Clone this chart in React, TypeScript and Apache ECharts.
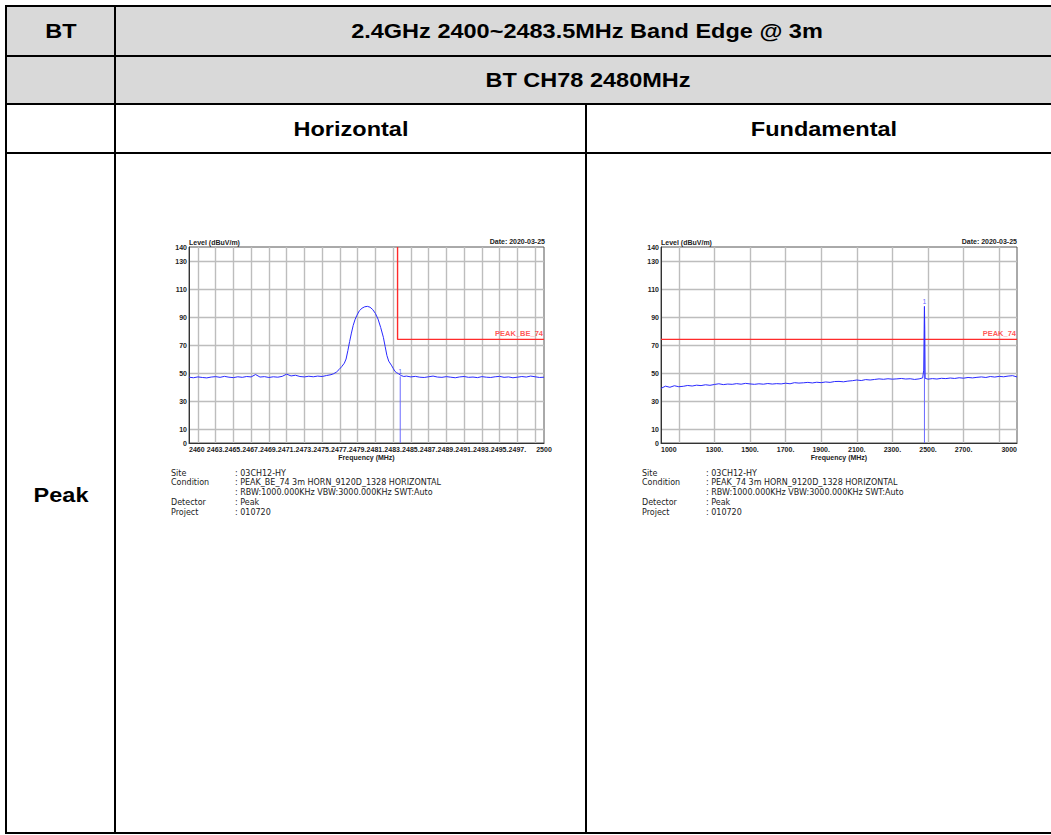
import React, { useEffect, useRef } from "react";
import * as echarts from "echarts";

// ---------- data ----------
const leftFreq = [
  2460, 2460.5, 2461, 2461.5, 2462, 2462.5, 2463, 2463.5, 2464, 2464.5, 2465, 2465.5, 2466, 2466.5, 2467, 2467.5,
  2468, 2468.5, 2469, 2469.5, 2470, 2470.5, 2471, 2471.5, 2472, 2472.5, 2473, 2473.5, 2474, 2474.5, 2475, 2475.5,
  2476, 2476.3, 2476.6, 2476.9, 2477.2, 2477.5, 2477.7, 2477.9, 2478.1, 2478.3, 2478.5, 2478.7, 2478.9, 2479.2,
  2479.5, 2479.8, 2480.1, 2480.4, 2480.7, 2481.0, 2481.3, 2481.6, 2481.9, 2482.1, 2482.3, 2482.5, 2482.8, 2483.0,
  2483.2, 2483.4, 2483.6, 2483.9, 2484.2, 2484.5, 2485, 2485.5, 2486, 2486.5, 2487, 2487.5, 2488, 2488.5, 2489,
  2489.5, 2490, 2490.5, 2491, 2491.5, 2492, 2492.5, 2493, 2493.5, 2494, 2494.5, 2495, 2495.5, 2496, 2496.5, 2497,
  2497.5, 2498, 2498.5, 2499, 2499.5, 2500,
];
const leftLevel = [
  47.0, 46.6, 47.2, 46.8, 46.5, 47.1, 47.4, 46.9, 47.6, 47.0, 46.7, 47.3, 46.9, 47.5, 47.2, 48.9,
  47.1, 47.4, 46.8, 47.3, 47.0, 47.6, 49.2, 47.9, 48.4, 47.5, 47.2, 47.7, 47.3, 47.8, 47.5, 48.2,
  48.8, 49.5, 50.6, 52.4, 54.5, 57.0, 60.0, 66.0, 72.5, 78.5, 84.0, 88.0, 91.0, 94.5,
  96.3, 97.3, 97.6, 97.0, 95.3, 92.6, 88.5, 82.5, 75.5, 69.0, 62.5, 58.5, 55.6, 53.4,
  51.2, 50.2, 49.5, 48.2, 47.5, 47.8, 47.2, 47.6, 47.0, 46.8, 47.3, 47.8, 47.1, 46.9, 47.4,
  47.0, 46.6, 47.2, 47.5, 46.9, 47.1, 46.7, 47.4, 47.0, 46.8, 47.3, 47.6, 46.9, 47.2, 46.6, 47.0,
  47.5, 47.1, 47.8, 47.3, 46.8, 47.0,
];
const leftLimit = [
  [2483.5, 140],
  [2483.5, 74],
  [2500, 74],
];
const leftMarker = [2483.8, 47.6];

const rightFreq = [
  1000, 1025, 1050, 1075, 1100, 1125, 1150, 1175, 1200, 1225, 1250, 1275, 1300, 1325, 1350, 1375, 1400, 1425, 1450,
  1475, 1500, 1525, 1550, 1575, 1600, 1625, 1650, 1675, 1700, 1725, 1750, 1775, 1800, 1825, 1850, 1875, 1900, 1925,
  1950, 1975, 2000, 2025, 2050, 2075, 2100, 2125, 2150, 2175, 2200, 2225, 2250, 2275, 2300, 2325, 2350, 2375, 2400,
  2425, 2450, 2470, 2476, 2480, 2482, 2484, 2500, 2525, 2550, 2575, 2600, 2625, 2650, 2675, 2700, 2725, 2750, 2775,
  2800, 2825, 2850, 2875, 2900, 2925, 2950, 2975, 3000,
];
const rightLevel = [
  39.0, 40.6, 39.8, 40.9, 40.2, 40.5, 41.1, 40.7, 41.3, 41.0, 41.6, 41.2, 41.8, 42.3, 41.7, 42.1, 41.9, 42.4, 42.0,
  42.6, 42.2, 41.9, 42.3, 42.0, 42.5, 42.1, 42.4, 42.2, 42.7, 42.3, 43.1, 42.8, 43.0, 43.3, 42.9, 43.4, 43.1, 43.6,
  43.3, 43.9, 44.0, 43.7, 44.2, 44.5, 45.0, 44.6, 45.3, 45.0, 45.4, 45.8, 45.5, 45.9, 45.6, 45.8, 46.1, 45.7, 45.9,
  45.4, 45.8, 46.5, 52.0, 97.5, 81.0, 46.2, 45.6, 46.0, 45.7, 46.2, 46.0, 46.4, 46.1, 46.6, 46.3, 46.8, 46.5, 46.9,
  47.2, 46.8, 47.5, 47.1, 47.6, 47.3, 47.8, 48.1, 47.2,
];
const rightLimit = [
  [1000, 74],
  [3000, 74],
];
const rightMarker = [2480, 97.5];

const leftXGrid = [2461, 2463, 2465, 2467, 2469, 2471, 2473, 2475, 2477, 2479, 2481, 2483, 2485, 2487, 2489, 2491, 2493, 2495, 2497, 2499];
const leftXLabels = [2460, 2463, 2465, 2467, 2469, 2471, 2473, 2475, 2477, 2479, 2481, 2483, 2485, 2487, 2489, 2491, 2493, 2495, 2497, 2500];
const rightXGrid = [1100, 1300, 1500, 1700, 1900, 2100, 2300, 2500, 2700, 2900];
const rightXLabels = [1000, 1300, 1500, 1700, 1900, 2100, 2300, 2500, 2700, 3000];
const yGrid = [10, 30, 50, 70, 90, 110, 130];
const yLabels = [0, 10, 30, 50, 70, 90, 110, 130, 140];

const infoKeys = ["Site", "Condition", "", "Detector", "Project"];
const leftInfo = [": 03CH12-HY", ": PEAK_BE_74 3m HORN_9120D_1328 HORIZONTAL", ": RBW:1000.000KHz VBW:3000.000KHz SWT:Auto", ": Peak", ": 010720"];
const rightInfo = [": 03CH12-HY", ": PEAK_74 3m HORN_9120D_1328 HORIZONTAL", ": RBW:1000.000KHz VBW:3000.000KHz SWT:Auto", ": Peak", ": 010720"];

// ---------- helpers ----------
const AX_FONT = '"Liberation Sans", Arial, sans-serif';
const axisText = { color: "#222", fontSize: 7, fontWeight: "bold" as const, fontFamily: AX_FONT };
const RED = "#ff2b2b";

function xAxisFor(gridIndex: number, min: number, max: number, grid: number[], labels: number[], alignMax: string) {
  return {
    type: "value",
    gridIndex,
    min,
    max,
    name: "Frequency (MHz)",
    nameLocation: "middle",
    nameGap: 11,
    nameTextStyle: { ...axisText },
    axisLine: { show: true, onZero: false, lineStyle: { color: "#333", width: 1 } },
    axisTick: { show: false, customValues: grid },
    axisLabel: {
      ...axisText,
      margin: 3,
      customValues: labels,
      alignMinLabel: "left",
      alignMaxLabel: alignMax,
      formatter: (v: number) => (v === min || v === max ? String(v) : v + "."),
    },
    splitLine: { show: true, lineStyle: { color: "#bdbdbd", width: 1.4 } },
  };
}
function yAxisFor(gridIndex: number) {
  return {
    type: "value",
    gridIndex,
    min: 0,
    max: 140,
    axisLine: { show: true, lineStyle: { color: "#333", width: 1 } },
    axisTick: { show: false, customValues: yGrid },
    axisLabel: { ...axisText, margin: 2, customValues: yLabels },
    splitLine: { show: true, lineStyle: { color: "#bdbdbd", width: 1.4 } },
  };
}

function chartSeries(idx: number, freq: number[], level: number[], limit: number[][], limitName: string, marker: number[]) {
  const trace = freq.map((f, i) => [f, level[i]]);
  const last = limit[limit.length - 1];
  return [
    {
      type: "line",
      xAxisIndex: idx,
      yAxisIndex: idx,
      data: limit,
      symbol: "none",
      color: RED,
      itemStyle: { color: RED },
      lineStyle: { color: RED, width: 1.4 },
      z: 3,
    },
    {
      type: "scatter",
      xAxisIndex: idx,
      yAxisIndex: idx,
      data: [last],
      symbolSize: 1,
      itemStyle: { color: "rgba(0,0,0,0)" },
      label: {
        show: true,
        position: "top",
        align: "right",
        distance: 1,
        offset: [-1, 0],
        formatter: limitName,
        color: RED,
        fontSize: 7.5,
        fontWeight: "bold",
        fontFamily: AX_FONT,
      },
      z: 6,
    },
    {
      type: "line",
      xAxisIndex: idx,
      yAxisIndex: idx,
      data: [
        [marker[0], 0],
        [marker[0], marker[1]],
      ],
      symbol: "none",
      color: "#6a6aff",
      lineStyle: { color: "#6a6aff", width: 1 },
      z: 4,
    },
    {
      type: "line",
      xAxisIndex: idx,
      yAxisIndex: idx,
      data: trace,
      symbol: "none",
      color: "#2a2aff",
      lineStyle: { color: "#2a2aff", width: 1 },
      z: 5,
    },
    {
      type: "scatter",
      xAxisIndex: idx,
      yAxisIndex: idx,
      data: [marker],
      symbolSize: 1,
      itemStyle: { color: "rgba(0,0,0,0)" },
      label: { show: true, position: "top", distance: 1, formatter: "1", color: "#3a3aff", fontSize: 7, fontFamily: AX_FONT },
      z: 6,
    },
  ];
}

function hLine(x: number, y: number, w: number) {
  return { type: "rect", shape: { x, y, width: w, height: 2 }, style: { fill: "#000" }, z: 10 };
}
function vLine(x: number, y: number, h: number) {
  return { type: "rect", shape: { x, y, width: 2, height: h }, style: { fill: "#000" }, z: 10 };
}
function cellText(text: string, x: number, y: number) {
  return {
    type: "text",
    x,
    y,
    scaleX: 1.12,
    z: 11,
    style: {
      text,
      font: 'bold 21px "Liberation Sans", Arial, sans-serif',
      fill: "#000",
      align: "center",
      verticalAlign: "middle",
    },
  };
}
function smallText(text: string, x: number, y: number, align: string) {
  return {
    type: "text",
    x,
    y,
    z: 11,
    style: {
      text,
      font: 'bold 7px "Liberation Sans", Arial, sans-serif',
      fill: "#222",
      align,
      verticalAlign: "middle",
    },
  };
}
function infoBlock(x1: number, x2: number, values: string[]) {
  const ys = [473, 482.5, 492.5, 502.5, 512];
  const out: any[] = [];
  const font = '8px "DejaVu Sans", sans-serif';
  infoKeys.forEach((k, i) => {
    if (k) out.push({ type: "text", x: x1, y: ys[i], z: 11, style: { text: k, font, fill: "#222", verticalAlign: "middle" } });
    out.push({ type: "text", x: x2, y: ys[i], z: 11, style: { text: values[i], font, fill: "#222", verticalAlign: "middle" } });
  });
  return out;
}

export default function App() {
  const ref = useRef<HTMLDivElement>(null);
  useEffect(() => {
    if (!ref.current) return;
    const chart = echarts.init(ref.current, undefined, { renderer: "svg" });
    const graphic: any[] = [
      { type: "rect", shape: { x: 6, y: 6, width: 1045, height: 98 }, style: { fill: "#d9d9d9" }, z: 1 },
      hLine(5, 5, 1046),
      hLine(5, 55, 1046),
      hLine(5, 103, 1046),
      hLine(5, 152, 1046),
      hLine(5, 832, 1046),
      vLine(5, 5, 829),
      vLine(114, 5, 829),
      vLine(585, 103, 731),
      cellText("BT", 61, 31),
      cellText("2.4GHz 2400~2483.5MHz Band Edge @ 3m", 587, 31),
      cellText("BT CH78 2480MHz", 588, 80),
      cellText("Horizontal", 351, 129),
      cellText("Fundamental", 824, 129),
      cellText("Peak", 61, 495),
      smallText("Level (dBuV/m)", 189, 242, "left"),
      smallText("Date: 2020-03-25", 545, 241, "right"),
      smallText("Level (dBuV/m)", 661, 242, "left"),
      smallText("Date: 2020-03-25", 1017, 241, "right"),
      ...infoBlock(171, 235, leftInfo),
      ...infoBlock(642, 706, rightInfo),
    ];
    chart.setOption({
      animation: false,
      backgroundColor: "#fff",
      grid: [
        { left: 189, top: 247, width: 355, height: 196, show: true, borderColor: "#555", borderWidth: 1 },
        { left: 661, top: 247, width: 356, height: 196, show: true, borderColor: "#555", borderWidth: 1 },
      ],
      xAxis: [
        xAxisFor(0, 2460, 2500, leftXGrid, leftXLabels, "center"),
        xAxisFor(1, 1000, 3000, rightXGrid, rightXLabels, "right"),
      ],
      yAxis: [yAxisFor(0), yAxisFor(1)],
      series: [
        ...chartSeries(0, leftFreq, leftLevel, leftLimit, "PEAK_BE_74", leftMarker),
        ...chartSeries(1, rightFreq, rightLevel, rightLimit, "PEAK_74", rightMarker),
      ],
      graphic,
    });
    return () => chart.dispose();
  }, []);
  return <div ref={ref} style={{ position: "absolute", left: 0, top: 0, width: 1051, height: 835 }} />;
}
